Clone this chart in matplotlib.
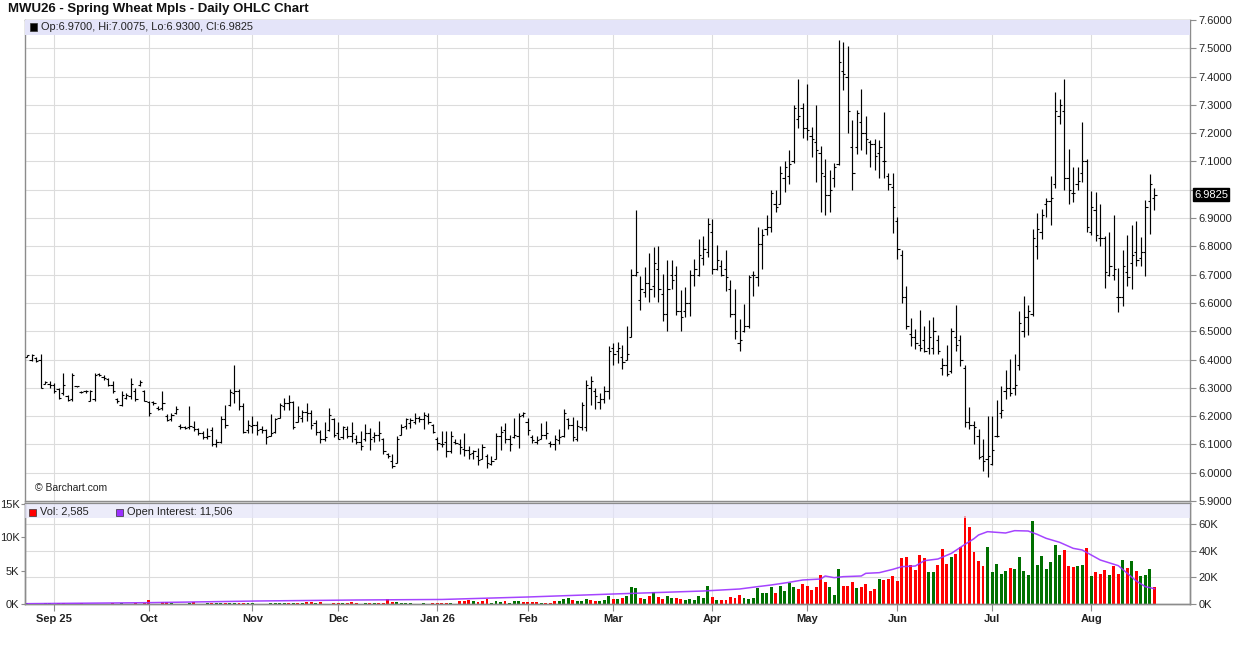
import pandas as pd
import numpy as np
import matplotlib
matplotlib.use('Agg')
import matplotlib.pyplot as plt
from matplotlib.patches import Rectangle
from matplotlib.transforms import blended_transform_factory

plt.rcParams['font.family'] = ['Liberation Sans', 'DejaVu Sans']

# --- Data ---
title = 'MWU26 - Spring Wheat Mpls - Daily OHLC Chart'
month_labels = ['Sep 25', 'Oct', 'Nov', 'Dec', 'Jan 26', 'Feb', 'Mar', 'Apr', 'May', 'Jun', 'Jul', 'Aug']
holidays = ['2025-09-01', '2025-11-27', '2025-12-25', '2026-01-01', '2026-01-19',
            '2026-02-16', '2026-04-03', '2026-05-25', '2026-06-19', '2026-07-03']

high = [6.415, 6.42, 6.41, 6.42, 6.323, 6.323, 6.318, 6.30, 6.353, 6.276,
        6.353, 6.306, 6.288, 6.294, 6.294, 6.353, 6.353, 6.347, 6.335, 6.323,
        6.265, 6.288, 6.282, 6.335, 6.30, 6.329, 6.294, 6.253, 6.253, 6.235,
        6.288, 6.206, 6.212, 6.235, 6.171, 6.165, 6.235, 6.182, 6.159, 6.147,
        6.159, 6.162, 6.118, 6.20, 6.241, 6.296, 6.382, 6.296, 6.247, 6.188,
        6.20, 6.182, 6.165, 6.153, 6.206, 6.194, 6.247, 6.265, 6.276, 6.253,
        6.235, 6.223, 6.245, 6.223, 6.188, 6.15, 6.179, 6.229, 6.194, 6.179,
        6.165, 6.165, 6.179, 6.135, 6.147, 6.171, 6.159, 6.144, 6.182, 6.123,
        6.068, 6.065, 6.129, 6.171, 6.194, 6.194, 6.212, 6.20, 6.215, 6.212,
        6.171, 6.127, 6.147, 6.147, 6.147, 6.118, 6.118, 6.141, 6.094, 6.082,
        6.088, 6.10, 6.065, 6.059, 6.141, 6.165, 6.176, 6.132, 6.194, 6.212,
        6.214, 6.194, 6.135, 6.129, 6.176, 6.182, 6.112, 6.135, 6.153, 6.224,
        6.194, 6.198, 6.188, 6.249, 6.329, 6.341, 6.30, 6.282, 6.306, 6.449,
        6.459, 6.462, 6.453, 6.52, 6.72, 6.929, 6.696, 6.727, 6.776, 6.798,
        6.802, 6.704, 6.751, 6.753, 6.732, 6.645, 6.656, 6.715, 6.755, 6.826,
        6.838, 6.90, 6.896, 6.806, 6.751, 6.786, 6.682, 6.649, 6.543, 6.598,
        6.70, 6.712, 6.868, 6.862, 6.912, 7.00, 7.00, 7.085, 7.10, 7.141,
        7.30, 7.391, 7.308, 7.374, 7.223, 7.30, 7.155, 7.108, 7.071, 7.094,
        7.529, 7.521, 7.508, 7.247, 7.282, 7.355, 7.261, 7.176, 7.179, 7.176,
        7.276, 7.061, 7.059, 6.904, 6.786, 6.661, 6.547, 6.508, 6.576, 6.52,
        6.541, 6.551, 6.488, 6.406, 6.453, 6.512, 6.594, 6.488, 6.382, 6.233,
        6.182, 6.153, 6.12, 6.202, 6.20, 6.256, 6.308, 6.362, 6.402, 6.418,
        6.571, 6.626, 6.591, 6.861, 6.918, 6.932, 6.971, 7.047, 7.347, 7.32,
        7.391, 7.144, 7.08, 7.08, 7.241, 7.108, 6.994, 6.991, 6.95, 6.835,
        6.849, 6.912, 6.724, 6.788, 6.841, 6.876, 6.888, 6.833, 6.965, 7.056,
        7.0075]

low = [6.41, 6.395, 6.39, 6.30, 6.312, 6.30, 6.282, 6.259, 6.276, 6.253,
       6.253, 6.304, 6.282, 6.282, 6.253, 6.253, 6.341, 6.329, 6.306, 6.282,
       6.247, 6.235, 6.259, 6.259, 6.253, 6.306, 6.253, 6.202, 6.241, 6.223,
       6.223, 6.182, 6.182, 6.206, 6.153, 6.153, 6.153, 6.147, 6.135, 6.12,
       6.12, 6.096, 6.092, 6.106, 6.159, 6.237, 6.247, 6.223, 6.141, 6.141,
       6.141, 6.135, 6.141, 6.103, 6.129, 6.141, 6.194, 6.223, 6.221, 6.155,
       6.179, 6.179, 6.182, 6.153, 6.135, 6.106, 6.112, 6.147, 6.127, 6.118,
       6.118, 6.123, 6.108, 6.103, 6.082, 6.112, 6.082, 6.108, 6.112, 6.065,
       6.053, 6.018, 6.033, 6.132, 6.155, 6.159, 6.171, 6.179, 6.153, 6.171,
       6.139, 6.082, 6.092, 6.056, 6.071, 6.10, 6.065, 6.059, 6.049, 6.049,
       6.029, 6.047, 6.018, 6.026, 6.049, 6.08, 6.106, 6.076, 6.123, 6.088,
       6.198, 6.135, 6.106, 6.103, 6.118, 6.118, 6.092, 6.082, 6.10, 6.127,
       6.153, 6.112, 6.112, 6.151, 6.147, 6.241, 6.224, 6.224, 6.247, 6.259,
       6.379, 6.388, 6.365, 6.40, 6.48, 6.694, 6.576, 6.621, 6.602, 6.621,
       6.602, 6.535, 6.50, 6.649, 6.559, 6.50, 6.551, 6.553, 6.661, 6.696,
       6.735, 6.762, 6.704, 6.715, 6.694, 6.641, 6.551, 6.473, 6.429, 6.496,
       6.512, 6.626, 6.659, 6.721, 6.841, 6.849, 6.92, 6.949, 6.992, 7.021,
       7.096, 7.218, 7.182, 7.176, 7.115, 7.026, 6.923, 6.912, 6.923, 7.009,
       7.088, 7.351, 7.20, 7.00, 7.127, 7.139, 7.127, 7.082, 7.071, 7.041,
       7.041, 6.998, 6.847, 6.755, 6.60, 6.508, 6.449, 6.438, 6.429, 6.426,
       6.421, 6.418, 6.418, 6.344, 6.341, 6.351, 6.429, 6.376, 6.162, 6.153,
       6.103, 6.049, 6.006, 5.986, 6.029, 6.127, 6.194, 6.261, 6.271, 6.276,
       6.362, 6.48, 6.485, 6.553, 6.755, 6.826, 6.904, 6.876, 7.006, 7.233,
       7.00, 6.951, 6.955, 7.00, 7.029, 6.849, 6.841, 6.818, 6.80, 6.653,
       6.694, 6.68, 6.567, 6.588, 6.661, 6.649, 6.732, 6.729, 6.696, 6.845,
       6.93]

open_ = [6.41, 6.40, 6.405, 6.40, 6.315, 6.315, 6.31, 6.295, 6.28, 6.27,
         6.26, 6.305, 6.285, 6.29, 6.255, 6.26, 6.35, 6.34, 6.33, 6.31,
         6.26, 6.24, 6.265, 6.27, 6.29, 6.31, 6.29, 6.25, 6.25, 6.23,
         6.23, 6.20, 6.19, 6.21, 6.165, 6.16, 6.16, 6.16, 6.155, 6.14,
         6.125, 6.15, 6.10, 6.11, 6.19, 6.24, 6.28, 6.29, 6.235, 6.15,
         6.165, 6.17, 6.155, 6.15, 6.13, 6.145, 6.195, 6.235, 6.245, 6.25,
         6.18, 6.195, 6.215, 6.21, 6.175, 6.145, 6.12, 6.15, 6.19, 6.14,
         6.125, 6.155, 6.13, 6.12, 6.11, 6.12, 6.14, 6.125, 6.135, 6.12,
         6.065, 6.04, 6.035, 6.135, 6.165, 6.175, 6.18, 6.195, 6.19, 6.20,
         6.17, 6.12, 6.10, 6.11, 6.075, 6.11, 6.10, 6.085, 6.08, 6.07,
         6.06, 6.05, 6.06, 6.03, 6.05, 6.13, 6.15, 6.12, 6.125, 6.13,
         6.205, 6.18, 6.125, 6.11, 6.12, 6.135, 6.105, 6.10, 6.115, 6.13,
         6.19, 6.17, 6.12, 6.16, 6.16, 6.30, 6.29, 6.25, 6.26, 6.29,
         6.44, 6.43, 6.41, 6.40, 6.48, 6.70, 6.61, 6.64, 6.67, 6.66,
         6.72, 6.63, 6.56, 6.70, 6.70, 6.57, 6.57, 6.60, 6.70, 6.70,
         6.76, 6.78, 6.85, 6.72, 6.73, 6.72, 6.65, 6.56, 6.46, 6.50,
         6.52, 6.70, 6.69, 6.81, 6.86, 6.87, 6.95, 6.95, 7.04, 7.05,
         7.10, 7.25, 7.29, 7.22, 7.19, 7.17, 7.13, 7.05, 6.98, 7.04,
         7.09, 7.42, 7.40, 7.15, 7.15, 7.24, 7.20, 7.17, 7.16, 7.13,
         7.10, 7.05, 7.01, 6.89, 6.77, 6.62, 6.49, 6.48, 6.45, 6.47,
         6.44, 6.44, 6.47, 6.37, 6.38, 6.36, 6.48, 6.47, 6.37, 6.18,
         6.17, 6.13, 6.06, 6.05, 6.03, 6.13, 6.21, 6.29, 6.30, 6.30,
         6.38, 6.50, 6.55, 6.56, 6.80, 6.85, 6.95, 6.96, 7.02, 7.26,
         7.28, 7.04, 6.99, 7.02, 7.06, 7.10, 6.85, 6.93, 6.83, 6.83,
         6.70, 6.70, 6.62, 6.62, 6.71, 6.74, 6.78, 6.76, 6.78, 6.96,
         6.97]

close = [6.415, 6.415, 6.395, 6.30, 6.32, 6.31, 6.29, 6.265, 6.31, 6.258,
         6.345, 6.305, 6.285, 6.29, 6.29, 6.345, 6.345, 6.335, 6.31, 6.29,
         6.255, 6.275, 6.275, 6.315, 6.26, 6.32, 6.255, 6.21, 6.245, 6.225,
         6.245, 6.185, 6.205, 6.225, 6.16, 6.158, 6.165, 6.155, 6.14, 6.125,
         6.13, 6.10, 6.11, 6.19, 6.17, 6.285, 6.29, 6.235, 6.145, 6.17,
         6.17, 6.15, 6.15, 6.125, 6.14, 6.19, 6.24, 6.245, 6.25, 6.16,
         6.20, 6.215, 6.21, 6.17, 6.145, 6.12, 6.125, 6.205, 6.135, 6.12,
         6.16, 6.13, 6.14, 6.11, 6.095, 6.14, 6.12, 6.135, 6.14, 6.075,
         6.06, 6.025, 6.12, 6.16, 6.19, 6.185, 6.195, 6.19, 6.205, 6.18,
         6.145, 6.105, 6.10, 6.075, 6.13, 6.105, 6.09, 6.08, 6.065, 6.075,
         6.045, 6.09, 6.035, 6.04, 6.13, 6.145, 6.12, 6.10, 6.135, 6.20,
         6.21, 6.15, 6.115, 6.115, 6.135, 6.14, 6.10, 6.12, 6.125, 6.21,
         6.17, 6.125, 6.165, 6.24, 6.31, 6.325, 6.27, 6.26, 6.29, 6.43,
         6.42, 6.44, 6.39, 6.42, 6.70, 6.71, 6.65, 6.67, 6.65, 6.74,
         6.65, 6.56, 6.65, 6.68, 6.57, 6.55, 6.60, 6.70, 6.72, 6.77,
         6.79, 6.88, 6.72, 6.75, 6.70, 6.69, 6.56, 6.50, 6.47, 6.52,
         6.69, 6.70, 6.81, 6.84, 6.87, 6.99, 6.94, 7.06, 7.08, 7.09,
         7.29, 7.26, 7.22, 7.21, 7.18, 7.14, 7.06, 6.98, 7.00, 7.08,
         7.45, 7.41, 7.28, 7.06, 7.27, 7.20, 7.18, 7.16, 7.12, 7.15,
         7.10, 7.02, 6.94, 6.79, 6.62, 6.52, 6.48, 6.46, 6.44, 6.43,
         6.48, 6.50, 6.43, 6.38, 6.35, 6.50, 6.45, 6.40, 6.18, 6.17,
         6.16, 6.055, 6.04, 6.06, 6.08, 6.13, 6.22, 6.30, 6.28, 6.31,
         6.53, 6.55, 6.57, 6.83, 6.86, 6.91, 6.96, 6.97, 7.28, 7.30,
         7.04, 7.00, 6.99, 7.03, 7.10, 6.87, 6.94, 6.84, 6.83, 6.71,
         6.73, 6.72, 6.62, 6.73, 6.69, 6.77, 6.75, 6.78, 6.94, 7.02,
         6.9825]

# daily volume in thousands of contracts
volume = [0.1, 0, 0, 0, 0.15, 0.15, 0, 0.15, 0.15, 0,
          0, 0, 0.1, 0, 0, 0, 0, 0, 0, 0.1,
          0, 0.1, 0, 0, 0.15, 0, 0.2, 0.6, 0, 0,
          0.3, 0.3, 0.15, 0, 0, 0, 0.2, 0.3, 0, 0,
          0.1, 0.1, 0.1, 0.1, 0.1, 0.1, 0.1, 0.1, 0.1, 0.1,
          0.1, 0, 0, 0, 0.15, 0.15, 0.15, 0.15, 0.15, 0.15,
          0.15, 0.15, 0.3, 0.3, 0.15, 0.3, 0, 0, 0.15, 0.15,
          0.1, 0.15, 0.3, 0.15, 0, 0.1, 0.15, 0.1, 0.15, 0.15,
          0.75, 0.35, 0.3, 0.15, 0.15, 0.15, 0, 0, 0.1, 0,
          0.15, 0.15, 0.2, 0.2, 0.2, 0, 0.5, 0.5, 0.65, 0.5,
          0.35, 0.5, 0.75, 0.2, 0.5, 0.35, 0.5, 0.2, 0.5, 0.5,
          0.35, 0.35, 0.35, 0.35, 0.2, 0.2, 0.2, 0.5, 0.5, 0.8,
          0.95, 0.65, 0.5, 0.5, 0.8, 0.65, 0.5, 0.5, 0.65, 1.25,
          0.8, 0.8, 0.95, 1.25, 2.6, 2.4, 0.95, 0.8, 1.25, 1.85,
          1.1, 0.8, 1.25, 0.95, 0.95, 0.8, 0.65, 0.8, 0.65, 1.25,
          0.95, 2.75, 1.1, 0.65, 0.65, 0.65, 1.1, 0.95, 1.4, 0.95,
          0.8, 0.95, 2.45, 1.7, 1.7, 2.6, 1.7, 2.75, 2.0, 3.2,
          2.6, 2.3, 3.05, 2.75, 2.15, 2.6, 4.4, 3.35, 2.55, 1.35,
          5.25, 2.7, 2.7, 3.3, 2.4, 2.55, 3.0, 1.95, 2.25, 3.75,
          3.6, 3.75, 4.2, 3.45, 6.9, 7.05, 5.85, 5.1, 7.35, 6.9,
          4.8, 4.8, 5.85, 8.25, 6.0, 7.05, 7.5, 8.55, 13.2, 11.55,
          7.8, 6.45, 5.7, 8.55, 4.8, 6.0, 4.5, 4.95, 5.4, 5.25,
          7.05, 4.95, 4.35, 12.45, 5.85, 7.2, 5.25, 6.3, 8.85, 7.35,
          8.1, 5.7, 5.55, 5.7, 5.85, 8.4, 4.2, 4.8, 4.5, 5.1,
          4.35, 5.7, 4.5, 6.6, 5.4, 6.45, 4.95, 4.2, 4.35, 5.25,
          2.585]

# G = up day, R = down day (volume bar colour)
vol_dir = ('GGGGGGGRRG' 'GGRGGGGGGR' 'GGGGRGRRGG' 'RRGGGGGRGG' 'GRGGRGGRRG'
           'GGGGGGGGRG' 'RGRRGRGGRR' 'GRRRGGRGRR' 'RRGGGGGGGG' 'RR'
           'RRGGRRRGRR' 'RGGGRGGGRR' 'RRGRRRGGGR' 'GGGRRGGGRG' 'RGGGRGRGRR'
           'GGRRGGGGGG' 'RGRRRRRGGG' 'GGGGRGGGGR' 'RRRRRR'
           'GGGRRRGRRR' 'RGRRRRRRRR' 'RRGGRRRGRR' 'RRRRRGGGGG' 'RGGGGGGGGG'
           'GGRRRGGRGR' 'RRGRRGRGRG' 'GGR')

# open interest (thousands), read at selected bars
oi_idx = [0, 27, 51, 73, 92, 111, 130, 150, 158, 162, 165, 169, 172, 176, 177,
          179, 181, 185, 186, 189, 192, 194, 197, 199, 202, 205, 208, 210, 211, 213,
          217, 219, 222, 224, 226, 229, 232, 234, 236, 238, 242, 244, 246, 248, 249, 250]
oi_val = [0.25, 1.0, 2.25, 3.0, 3.4, 5.25, 7.5, 9.75, 11.25, 13.0, 14.25, 16.25, 18.0, 18.75, 21.0,
          19.75, 20.5, 21.0, 23.0, 23.5, 26.0, 28.0, 28.5, 32.5, 33.75, 38.0, 44.75, 49.0, 51.75, 54.25,
          53.25, 55.0, 54.75, 52.25, 49.25, 46.25, 41.75, 40.5, 36.75, 33.0, 28.75, 23.0, 17.25, 13.0, 12.25, 11.5]

# --- Trading calendar for the x axis ---
dates = pd.bdate_range('2025-08-22', '2026-08-21', freq='C', holidays=holidays)
x = np.arange(len(dates))
month_pos = [i for i in range(1, len(dates)) if dates[i].month != dates[i - 1].month]

W, H = 1236, 645
GRID = '#dcdcdc'
SPINE = '#8c8c8c'
BAND = '#e4e4f9'
TXT = '#222222'

fig = plt.figure(figsize=(W / 100, H / 100), dpi=100)
ax = fig.add_axes([25 / W, 1 - 501 / H, 1165 / W, 481 / H])
axv = fig.add_axes([25 / W, 1 - 604 / H, 1165 / W, 101 / H])


def fig_square(x0, y0, size, color):
    # small legend square, given in pixel coords from the top-left
    fig.patches.append(Rectangle((x0 / W, 1 - (y0 + size) / H), size / W, size / H,
                                 transform=fig.transFigure, facecolor=color,
                                 edgecolor='#333333', linewidth=0.5, zorder=10))


# --- Price panel ---
ax.set_xlim(-0.45, 257.9)
ax.set_ylim(5.9, 7.6)
ax.vlines(x, low, high, color='black', linewidth=0.85, zorder=3)
ax.hlines(open_, x - 0.5, x, color='black', linewidth=0.8, zorder=3)
ax.hlines(close, x, x + 0.5, color='black', linewidth=0.8, zorder=3)

yt = np.round(np.arange(5.9, 7.61, 0.1), 1)
ax.set_yticks(yt)
ax.set_yticklabels(['' if abs(v - 7.0) < 1e-6 else f'{v:.4f}' for v in yt])
ax.yaxis.tick_right()
ax.tick_params(axis='y', length=4, width=0.8, color=SPINE, labelsize=8, pad=2, labelcolor=TXT)
ax.set_xticks(month_pos)
ax.tick_params(axis='x', length=0, labelbottom=False)
ax.grid(True, color=GRID, linewidth=0.8, zorder=0)
ax.set_axisbelow(True)
for s in ax.spines.values():
    s.set_color(SPINE)
    s.set_linewidth(1.0)

# header band + last bar info
ax.add_patch(Rectangle((0, 1 - 14.5 / 481), 1, 14.5 / 481, transform=ax.transAxes,
                       facecolor=BAND, edgecolor='none', zorder=4))
fig_square(29.5, 23.5, 7.5, 'black')
fig.text(41 / W, 1 - 27.5 / H, 'Op:6.9700, Hi:7.0075, Lo:6.9300, Cl:6.9825',
         fontsize=7.9, va='center', ha='left', color=TXT)

# last price marker
trans = blended_transform_factory(ax.transAxes, ax.transData)
ax.text(1.0035, close[-1], f'{close[-1]:.4f}', transform=trans, fontsize=8, color='white',
        va='center', ha='left', zorder=6,
        bbox=dict(boxstyle='square,pad=0.12', facecolor='black', edgecolor='black'))

fig.text(35 / W, 1 - 488 / H, '\u00a9 Barchart.com', fontsize=7.5, va='center', ha='left', color=TXT)
fig.text(8 / W, 1 - 9 / H, title, fontsize=9.5, weight='bold', va='center', ha='left', color='#111111')

# --- Volume / open interest panel ---
vol_colors = ['#007000' if d == 'G' else '#ff0000' for d in vol_dir]
axv.bar(x, volume, width=0.65, color=vol_colors, zorder=2)
axv.set_xlim(-0.45, 257.9)
axv.set_ylim(0, 15.15)
axv.set_yticks([0, 5, 10, 15])
axv.set_yticklabels(['0K', '5K', '10K', '15K'])
axv.tick_params(axis='y', length=3, width=0.8, color=SPINE, labelsize=8, pad=1, labelcolor=TXT)
axv.set_xticks(month_pos)
axv.set_xticklabels(month_labels, fontsize=8, weight='bold', color=TXT)
axv.tick_params(axis='x', length=5, width=0.8, color=SPINE, pad=2)
for v in [4, 8, 12]:
    axv.axhline(v, color=GRID, linewidth=0.8, zorder=0)
for p in month_pos:
    axv.axvline(p, color=GRID, linewidth=0.8, zorder=0)
for s in axv.spines.values():
    s.set_color(SPINE)
    s.set_linewidth(1.0)

axo = axv.twinx()
axo.set_ylim(0, 75.75)
axo.plot(oi_idx, oi_val, color='#9b30ff', linewidth=1.1, alpha=0.9, zorder=3)
axo.set_yticks([0, 20, 40, 60])
axo.set_yticklabels(['0K', '20K', '40K', '60K'])
axo.tick_params(axis='y', length=4, width=0.8, color=SPINE, labelsize=8, pad=2, labelcolor=TXT)
for s in axo.spines.values():
    s.set_color(SPINE)
    s.set_linewidth(1.0)

axo.add_patch(Rectangle((0, 1 - 15 / 101), 1, 14 / 101, transform=axo.transAxes,
                        facecolor=BAND, edgecolor='none', alpha=0.7, zorder=4))
fig_square(29, 508.5, 7, '#ff0000')
fig.text(40 / W, 1 - 512 / H, 'Vol: 2,585', fontsize=7.9, va='center', ha='left', color=TXT)
fig_square(116, 508.5, 7, '#9b30ff')
fig.text(127 / W, 1 - 512 / H, 'Open Interest: 11,506', fontsize=7.9, va='center', ha='left', color=TXT)

plt.savefig('out.png', dpi=100)
